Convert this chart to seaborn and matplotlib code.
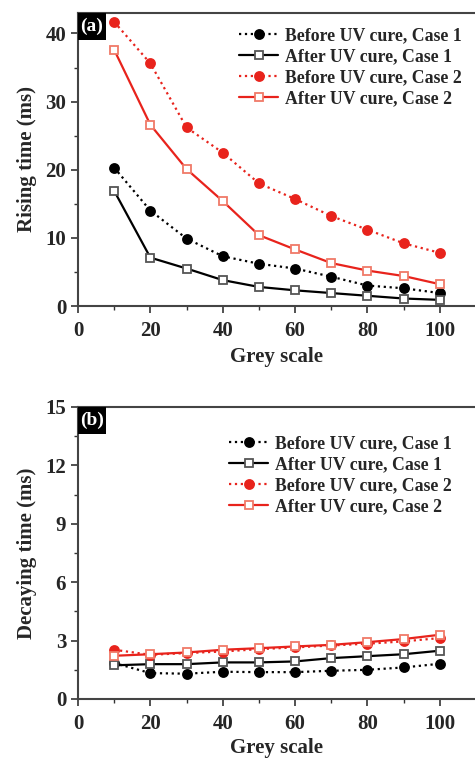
import matplotlib
matplotlib.use("Agg")
import matplotlib.pyplot as plt
import matplotlib.patches as mpatches
import seaborn as sns
import pandas as pd
from matplotlib.ticker import MultipleLocator

grey = [10, 20, 30, 40, 50, 60, 70, 80, 90, 100]
labels = ["Before UV cure, Case 1", "After UV cure, Case 1",
          "Before UV cure, Case 2", "After UV cure, Case 2"]

rise_before_c1 = [20.3, 14.0, 9.9, 7.3, 6.2, 5.5, 4.3, 3.0, 2.6, 1.9]
rise_after_c1 = [16.9, 7.1, 5.5, 3.8, 2.8, 2.3, 1.9, 1.5, 1.1, 0.9]
rise_before_c2 = [41.7, 35.6, 26.2, 22.5, 18.0, 15.7, 13.2, 11.2, 9.2, 7.8]
rise_after_c2 = [37.6, 26.6, 20.1, 15.4, 10.4, 8.3, 6.3, 5.2, 4.4, 3.2]

decay_before_c1 = [1.85, 1.33, 1.30, 1.40, 1.38, 1.38, 1.45, 1.50, 1.62, 1.81]
decay_after_c1 = [1.73, 1.79, 1.79, 1.88, 1.88, 1.93, 2.10, 2.20, 2.30, 2.48]
decay_before_c2 = [2.53, 2.27, 2.36, 2.44, 2.56, 2.65, 2.75, 2.84, 2.96, 3.13]
decay_after_c2 = [2.22, 2.30, 2.39, 2.53, 2.61, 2.70, 2.78, 2.92, 3.08, 3.30]

sns.set_theme(style="ticks")
plt.rcParams['font.family'] = ['Liberation Serif', 'DejaVu Serif']
plt.rcParams['font.weight'] = 'bold'
plt.rcParams['axes.labelweight'] = 'bold'

RED = "#e8231c"
RED_SQ = "#f07a68"
styles = [
    dict(color="black", linestyle=":", marker="o", markersize=6.5,
         markerfacecolor="black", markeredgecolor="black"),
    dict(color="black", linestyle="-", marker="s", markersize=6,
         markerfacecolor="white", markeredgecolor="#555555"),
    dict(color=RED, linestyle=":", marker="o", markersize=6.5,
         markerfacecolor=RED, markeredgecolor=RED),
    dict(color=RED, linestyle="-", marker="s", markersize=6,
         markerfacecolor="white", markeredgecolor=RED_SQ),
]

fig = plt.figure(figsize=(4.75, 7.61), dpi=100)
ax1 = fig.add_axes([78/475, 1-306/761, 398/475, 293/761])
ax2 = fig.add_axes([78/475, 1-699/761, 398/475, 292/761])

def draw(ax, series, ylim, major, minor, ylabel, tag, legend_anchor, hpx, xpad):
    for lab, vals, st in zip(labels, series, styles):
        df = pd.DataFrame({"grey": grey, "val": vals})
        sns.lineplot(data=df, x="grey", y="val", ax=ax, label=lab,
                     linewidth=1.6, markeredgewidth=1.3, **st)
    ax.set_xlim(0, 110)
    ax.set_ylim(*ylim)
    ax.xaxis.set_major_locator(MultipleLocator(20))
    ax.xaxis.set_minor_locator(MultipleLocator(10))
    ax.yaxis.set_major_locator(MultipleLocator(major))
    ax.yaxis.set_minor_locator(MultipleLocator(minor))
    ax.tick_params(which="major", direction="out", length=5, width=1.2,
                   labelsize=15, color="#333333")
    ax.tick_params(axis="x", which="major", pad=6)
    ax.tick_params(which="minor", direction="out", length=3, width=1.0,
                   color="#333333")
    for lbl in ax.get_xticklabels() + ax.get_yticklabels():
        lbl.set_fontweight("bold")
    for sp in ax.spines.values():
        sp.set_linewidth(1.5)
        sp.set_color("#444444")
    ax.set_xlabel("Grey scale", fontsize=15, fontweight="bold", labelpad=xpad)
    ax.set_ylabel(ylabel, fontsize=15, fontweight="bold", labelpad=6)
    w = 28 / 398
    h = 27 / hpx
    ax.add_patch(mpatches.Rectangle((0, 1 - h), w, h, transform=ax.transAxes,
                                    facecolor="black", edgecolor="none",
                                    clip_on=False, zorder=5))
    ax.text(w / 2, 1 - h / 2, tag, transform=ax.transAxes, ha="center",
            va="center", color="white", fontsize=14, fontweight="bold",
            zorder=6)
    ax.legend(loc="upper right", bbox_to_anchor=legend_anchor,
              frameon=False, handlelength=2.2,
              handletextpad=0.4, labelspacing=0.22,
              prop=dict(weight="bold", size=12.8))

draw(ax1, [rise_before_c1, rise_after_c1, rise_before_c2, rise_after_c2],
     (0, 43), 10, 5, "Rising time (ms)", "(a)", (1.005, 1.006), 293, 4)
draw(ax2, [decay_before_c1, decay_after_c1, decay_before_c2, decay_after_c2],
     (0, 15), 3, 1.5, "Decaying time (ms)", "(b)", (0.98, 0.957), 292, 3)

fig.savefig("out.png", dpi=100)
